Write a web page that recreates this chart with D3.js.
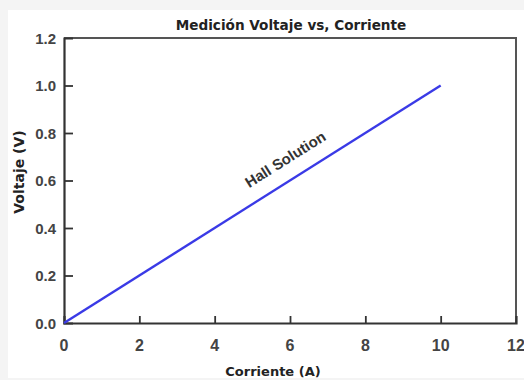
<!DOCTYPE html>
<html>
<head>
<meta charset="utf-8">
<script src="https://cdn.jsdelivr.net/npm/d3@7"></script>
<style>
  html, body { margin: 0; padding: 0; background: #f4f4f4; }
  svg { display: block; font-family: "Liberation Sans", Arial, sans-serif; }
</style>
</head>
<body>
<svg id="chart" width="524" height="380"></svg>
<script>
// Measured current (A) and voltage (V)
const corriente = [0, 10];
const voltaje = [0, 1.0];
const xTicks = [0, 2, 4, 6, 8, 10, 12];
const yTicks = [0, 0.2, 0.4, 0.6, 0.8, 1.0, 1.2];
const seriesLabel = "Hall Solution";
const titleText = "Medición Voltaje vs, Corriente";
const xTitle = "Corriente (A)";
const yTitle = "Voltaje (V)";

const svg = d3.select("#chart");
const W = 524, H = 380;
const m = { left: 64, right: 8, top: 38, bottom: 57 };
const titleFont = "'DejaVu Sans', Verdana, sans-serif";

// White page panel
svg.append("rect").attr("x", 8).attr("y", 10).attr("width", W - 8).attr("height", 368).attr("fill", "#fff");

const x = d3.scaleLinear().domain([0, 12]).range([m.left, W - m.right]);
const y = d3.scaleLinear().domain([0, 1.2]).range([H - m.bottom, m.top]);

// Frame (top and right)
svg.append("path")
  .attr("d", `M${x(0)},${y(1.2)}H${x(12)}V${y(0)}`)
  .attr("fill", "none").attr("stroke", "#555").attr("stroke-width", 2);

// Axes with inward ticks
const xAxis = svg.append("g").attr("transform", `translate(0,${y(0)})`)
  .call(d3.axisBottom(x).tickValues(xTicks.filter(d => d > 0 && d < 12)).tickSize(-7).tickFormat(""));
const yAxis = svg.append("g").attr("transform", `translate(${x(0)},0)`)
  .call(d3.axisLeft(y).tickValues(yTicks.filter(d => d > 0 && d < 1.2)).tickSize(-9).tickFormat(""));
[xAxis, yAxis].forEach(g => {
  g.select(".domain").attr("stroke", "#333").attr("stroke-width", 2.2);
  g.selectAll(".tick line").attr("stroke", "#333").attr("stroke-width", 1.8);
});

// Tick labels
svg.append("g").selectAll("text").data(xTicks).join("text")
  .attr("x", d => x(d)).attr("y", y(0) + 28)
  .attr("text-anchor", "middle").attr("font-size", 16).attr("font-weight", "bold")
  .attr("fill", "#444").text(d => d);
svg.append("g").selectAll("text").data(yTicks).join("text")
  .attr("x", x(0) - 8).attr("y", d => y(d) + 5.5)
  .attr("text-anchor", "end").attr("font-size", 15).attr("font-weight", "bold")
  .attr("fill", "#444").text(d => d.toFixed(1));

// Data line
svg.append("path")
  .datum(corriente.map((c, i) => [c, voltaje[i]]))
  .attr("d", d3.line().x(d => x(d[0])).y(d => y(d[1])))
  .attr("fill", "none").attr("stroke", "#3a3ae6").attr("stroke-width", 2.4);

// Series label set along the line
const ang = Math.atan2(y(0) - y(voltaje[1]), x(corriente[1]) - x(0)) * 180 / Math.PI;
svg.append("text")
  .attr("transform", `translate(${x(5.95)},${y(0.595) - 18}) rotate(${-ang})`)
  .attr("text-anchor", "middle").attr("font-size", 15).attr("font-weight", "bold")
  .attr("fill", "#333").text(seriesLabel);

// Titles
svg.append("text").attr("x", 291).attr("y", 30).attr("text-anchor", "middle")
  .attr("font-family", titleFont).attr("font-size", 13.6).attr("font-weight", "bold")
  .attr("fill", "#222").text(titleText);
svg.append("text").attr("x", 273).attr("y", 376).attr("text-anchor", "middle")
  .attr("font-family", titleFont).attr("font-size", 13).attr("font-weight", "bold")
  .attr("fill", "#222").text(xTitle);
svg.append("text").attr("transform", `translate(24,172) rotate(-90)`).attr("text-anchor", "middle")
  .attr("font-family", titleFont).attr("font-size", 14).attr("font-weight", "bold")
  .attr("fill", "#222").text(yTitle);
</script>
</body>
</html>
